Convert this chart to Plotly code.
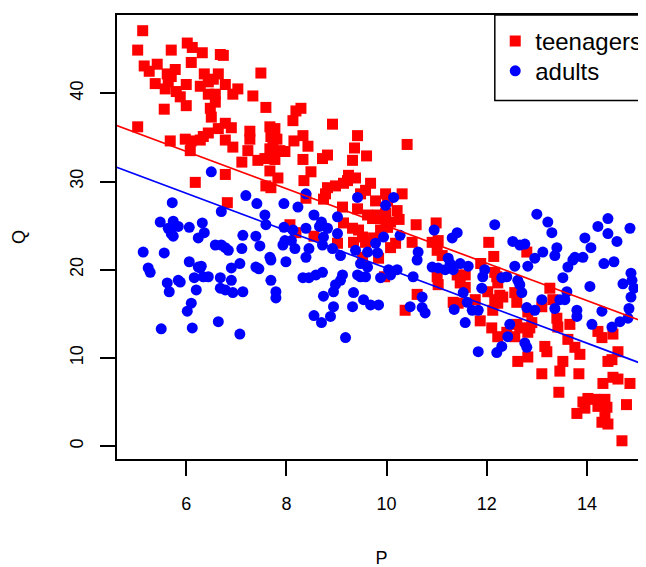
import plotly.graph_objects as go

# ---- data ----
teen_p = [5.13, 5.03, 5.70, 6.02, 6.12, 6.32, 6.68, 6.74, 5.42, 5.16, 5.26, 5.78, 5.62, 5.70, 6.10,
          7.49, 6.36, 6.64, 5.38, 5.64, 6.00, 6.28, 6.44, 6.54, 6.78, 5.58, 5.80, 7.03, 6.93, 6.44,
          6.58, 7.33, 5.88, 6.58, 6.00, 6.48, 5.56, 7.59, 6.50, 6.78, 6.90, 5.03, 8.13, 8.19, 7.67,
          7.77, 7.27, 6.64, 6.44, 6.34, 6.28, 5.98, 6.08, 6.10, 5.68, 6.78, 6.93, 7.27, 7.23, 7.69,
          7.73, 7.67, 7.81, 7.87, 7.97, 8.15, 7.11, 7.43, 7.57, 7.77,
          8.29, 8.92, 8.33, 8.43, 9.42, 9.36, 9.60, 10.41, 8.33, 8.72, 8.82, 9.32,
          8.49, 9.24, 9.38, 9.22, 8.35, 8.82, 8.98, 9.14, 8.78, 8.74, 8.39, 9.58, 9.68, 9.48,
          9.12, 9.42, 9.98, 10.02, 10.31, 9.78, 9.62, 9.72, 9.82, 9.92, 9.98, 10.08, 10.02, 9.88,
          10.21, 10.25, 9.14, 9.32, 9.44, 9.52, 10.59, 10.99, 8.07, 8.19, 8.55, 9.02, 9.34, 9.58,
          9.74, 10.08, 10.18, 10.51, 10.91, 11.03, 11.01, 11.11, 9.52, 9.84, 11.01, 11.03, 11.41,
          11.57, 11.47, 11.57, 9.96, 10.61, 11.33, 11.43, 10.37,
          6.78, 7.67, 7.83, 6.18, 7.59, 7.69, 6.82,
          12.04, 12.14, 12.80, 11.88, 12.16, 12.20, 12.22, 12.02, 12.26, 12.32, 12.16, 12.22, 12.56,
          12.60, 13.26, 13.32, 11.77, 13.10,
          11.87, 12.12, 12.10, 12.22, 12.40, 12.56, 12.60, 12.66, 12.82, 12.86, 12.90, 12.82, 13.40,
          13.42, 13.66, 13.62, 13.16, 13.20, 12.82, 12.62, 13.52, 13.46, 13.76, 13.86, 13.10, 13.84,
          14.22, 14.30, 14.52, 14.62, 14.42, 14.50, 14.52, 14.62, 14.32, 14.86, 13.44, 14.02, 13.92,
          14.16, 14.36, 14.30, 14.40, 14.22, 14.79, 13.80, 13.96, 14.30, 14.42, 14.36, 14.70]
teen_q = [47.1, 44.9, 44.9, 45.7, 45.2, 44.6, 44.4, 44.3, 43.3, 43.1, 42.5, 42.7, 42.2, 41.9, 43.5,
          42.3, 42.2, 42.2, 41.1, 41.3, 41.0, 40.8, 41.3, 41.6, 41.0, 40.5, 40.2, 40.5, 39.9, 39.9,
          39.9, 39.7, 39.6, 39.0, 38.6, 38.3, 38.2, 38.4, 37.3, 36.6, 36.1, 36.2, 36.9, 38.0, 36.2,
          36.0, 35.7, 36.0, 35.5, 35.1, 34.7, 34.8, 33.5, 34.6, 34.6, 34.7, 33.9, 34.8, 33.5, 35.1,
          34.0, 33.7, 34.8, 33.5, 33.4, 34.6, 32.2, 32.4, 32.6, 32.5,
          38.3, 36.5, 35.2, 34.0, 35.2, 33.8, 32.9, 34.2, 32.5, 32.6, 33.0, 32.4,
          31.1, 30.7, 30.4, 30.1, 30.1, 29.3, 29.5, 29.8, 28.6, 28.0, 28.1, 29.0, 29.8, 28.6,
          27.1, 26.9, 28.6, 27.8, 28.6, 27.8, 26.2, 25.8, 26.2, 25.8, 26.4, 25.4, 24.8, 24.5,
          26.7, 25.7, 25.3, 24.7, 24.5, 23.7, 25.1, 25.3, 25.1, 24.2, 23.8, 23.0, 23.1, 23.1,
          23.6, 22.5, 23.0, 23.1, 23.1, 23.3, 22.2, 21.6, 21.4, 21.3, 19.2, 18.3, 19.4,
          19.4, 18.5, 18.0, 19.2, 17.2, 16.3, 16.2, 15.4,
          30.8, 31.2, 30.4, 29.9, 29.5, 29.3, 27.6,
          23.1, 21.5, 22.0, 20.7, 19.7, 19.2, 18.5, 17.5, 17.1, 16.9, 16.6, 16.2, 17.4,
          16.3, 17.9, 16.6, 16.6, 15.8,
          14.2, 15.4, 13.4, 12.4, 12.9, 12.4, 13.8, 13.4, 12.9, 13.4, 14.0, 15.2, 14.5,
          13.5, 13.8, 12.1, 11.3, 10.7, 10.1, 9.6, 9.6, 8.5, 11.2, 10.4, 8.2, 8.2,
          13.0, 12.3, 12.7, 10.7, 9.6, 9.8, 7.8, 7.6, 7.1, 7.1, 6.1, 5.4, 5.0,
          5.3, 5.3, 4.7, 4.4, 4.5, 4.7, 3.7, 4.3, 2.7, 2.5, 3.3, 0.6]

adult_p = [6.50, 7.19, 7.41, 7.95, 5.72, 6.70, 7.57, 7.59, 5.48, 5.74, 5.84, 5.64, 5.70, 5.74, 6.06,
           6.32, 6.36, 6.24, 7.13, 7.39, 7.47, 7.95, 8.13, 7.97, 7.93, 8.17, 6.58, 6.70, 6.78, 6.84,
           7.11, 5.14, 5.56, 7.67, 7.69, 7.99, 6.06, 5.24, 5.28, 6.24, 6.30, 6.28, 6.90, 7.07, 7.39,
           7.45, 5.62, 5.66, 5.84, 5.88, 6.16, 6.34, 6.44, 6.68, 6.90, 6.20, 6.68, 6.78, 6.93, 7.13,
           7.69, 7.79, 7.79, 6.10, 6.02, 5.50, 6.12, 6.64, 7.07,
           8.39, 8.23, 9.42, 9.98, 10.14, 8.55, 8.70, 8.66, 8.82, 9.02, 8.39, 8.10, 9.02, 8.74, 8.72,
           8.92, 9.08, 8.45, 8.39, 9.38, 9.62, 9.82, 9.78, 10.27, 9.94, 10.95, 11.41, 11.31, 10.63,
           10.61, 11.23, 11.27, 9.62, 9.42, 9.48, 9.58, 9.88, 10.04, 10.08, 10.21, 10.53, 8.33, 8.45,
           8.59, 8.72, 8.98, 9.12, 9.08, 9.48, 8.94, 8.74, 8.94, 9.32, 9.34, 9.54, 9.68, 9.84, 10.47,
           10.77, 10.71, 10.91, 11.03, 11.17, 11.33, 11.47, 11.53, 11.61, 11.35,
           8.55, 8.70, 8.88, 9.18, 10.71, 11.57,
           13.00, 12.16, 13.22, 13.30, 14.22, 14.42, 14.42, 14.60, 14.86, 12.52, 12.66, 12.76, 13.96,
           14.08, 13.40, 13.36, 13.12, 12.96, 13.76, 13.92, 13.72, 13.62, 14.34, 14.54, 12.56, 12.82,
           11.63, 11.96, 11.92, 12.30, 12.40, 12.62, 12.66, 12.70, 11.90, 13.52, 14.06, 14.72, 14.88,
           14.90, 14.94, 14.88, 13.60, 13.56, 13.46, 13.10, 13.80, 12.80, 12.96,
           11.71, 11.83, 13.36, 13.80, 12.46, 12.42, 12.76, 12.80, 12.30, 12.20, 11.83, 14.10, 14.30,
           14.50, 14.66, 14.82, 14.84]
adult_q = [31.1, 28.4, 27.5, 27.5, 27.6, 26.6, 26.2, 25.1, 25.4, 25.5, 24.9, 24.7, 24.1, 23.8, 24.8,
           25.3, 24.2, 23.6, 23.9, 23.8, 22.7, 24.8, 24.5, 23.3, 22.8, 22.4, 22.8, 22.8, 22.5, 22.2,
           22.4, 22.0, 21.9, 21.4, 21.1, 20.9, 20.9, 20.2, 19.7, 20.3, 20.4, 20.2, 20.2, 20.7, 20.3,
           20.1, 18.5, 17.5, 18.8, 18.6, 19.1, 19.2, 19.2, 19.1, 18.8, 17.7, 17.9, 17.7, 17.4, 17.5,
           18.8, 17.5, 16.8, 16.2, 15.3, 13.3, 13.4, 14.1, 12.7,
           28.6, 27.1, 28.2, 27.3, 28.2, 26.2, 25.4, 24.9, 24.7, 26.0, 24.7, 23.3, 24.1, 23.7, 22.8,
           22.4, 21.6, 22.4, 21.4, 22.2, 22.0, 21.9, 23.0, 23.9, 23.7, 24.5, 24.2, 23.6, 22.0,
           21.1, 21.3, 20.7, 20.3, 19.4, 19.2, 19.2, 19.1, 20.0, 19.4, 20.0, 19.2, 19.1, 19.1,
           19.4, 19.7, 18.3, 19.4, 18.8, 20.7, 17.5, 17.0, 15.8, 15.8, 17.4, 16.6, 16.0, 16.0, 15.8,
           15.1, 16.9, 20.3, 20.2, 20.0, 20.0, 20.7, 17.4, 16.3, 15.5,
           14.8, 14.0, 14.7, 12.3, 15.7, 14.0,
           26.3, 25.1, 25.4, 24.2, 24.9, 25.8, 24.1, 23.2, 24.7, 23.2, 22.8, 22.9, 23.6,
           22.5, 22.5, 21.6, 22.0, 21.3, 21.4, 21.4, 21.1, 20.3, 20.7, 20.9, 20.4, 20.4,
           20.4, 20.0, 19.2, 19.1, 19.2, 18.8, 18.3, 17.4, 17.9, 19.1, 18.1, 18.4, 19.6,
           18.8, 17.9, 16.9, 17.5, 16.6, 16.6, 16.6, 15.4, 15.7, 15.4,
           15.4, 15.4, 15.6, 14.7, 13.8, 12.4, 11.7, 11.2, 11.3, 10.6, 10.7, 13.8, 15.3,
           13.5, 14.1, 14.5, 15.6]

x_ticks = [6, 8, 10, 12, 14]
y_ticks = [0, 10, 20, 30, 40]
teen_fit = [46.11, -2.115]    # intercept, slope
adult_fit = [41.41, -2.124]
fit_span = [4.0, 16.0]

# ---- figure ----
fig = go.Figure()
fig.add_trace(go.Scatter(x=teen_p, y=teen_q, mode="markers", name="teenagers", legend="legend",
                         marker=dict(symbol="square", size=11, color="#FF0000", line=dict(width=0))))
fig.add_trace(go.Scatter(x=adult_p, y=adult_q, mode="markers", name="adults", legend="legend2",
                         marker=dict(symbol="circle", size=11, color="#0000FF", line=dict(width=0))))
fig.add_trace(go.Scatter(x=fit_span, y=[teen_fit[0] + teen_fit[1] * v for v in fit_span],
                         mode="lines", line=dict(color="#FF0000", width=1.7), showlegend=False))
fig.add_trace(go.Scatter(x=fit_span, y=[adult_fit[0] + adult_fit[1] * v for v in fit_span],
                         mode="lines", line=dict(color="#0000FF", width=1.7), showlegend=False))

axis_common = dict(showgrid=False, zeroline=False, showline=True, linecolor="black", linewidth=1.5,
                   ticks="outside", ticklen=15, tickwidth=1.5, tickcolor="black",
                   tickfont=dict(size=18, color="black"))

fig.update_xaxes(range=[4.617, 15.18], tickvals=x_ticks, mirror=True,
                 ticklabelstandoff=13,
                 title=dict(text="P", font=dict(size=18), standoff=38), **axis_common)
fig.update_yaxes(range=[-1.466, 48.88], tickvals=y_ticks, mirror=False, tickangle=-90,
                 ticklabelstandoff=10,
                 title=dict(text="Q", font=dict(size=18), standoff=37), **axis_common)

fig.add_shape(type="rect", xref="paper", yref="paper", x0=0.7142, x1=1.3, y0=0.8074, y1=1.0,
              line=dict(color="black", width=1.5), fillcolor="rgba(0,0,0,0)")

legend_style = dict(xanchor="left", yanchor="middle", font=dict(size=24),
                    bgcolor="rgba(0,0,0,0)", borderwidth=0)

# the page body adds an 8px offset; margins compensate so the plot sits where the reference has it
fig.update_layout(width=646, height=567, margin=dict(l=109, r=8, t=5, b=116),
                  plot_bgcolor="white", paper_bgcolor="white",
                  font=dict(family="Liberation Sans, Arial, sans-serif", color="black"),
                  legend=dict(x=0.715, y=0.9405, **legend_style),
                  legend2=dict(x=0.715, y=0.8735, **legend_style))

fig.write_html("out.html")
